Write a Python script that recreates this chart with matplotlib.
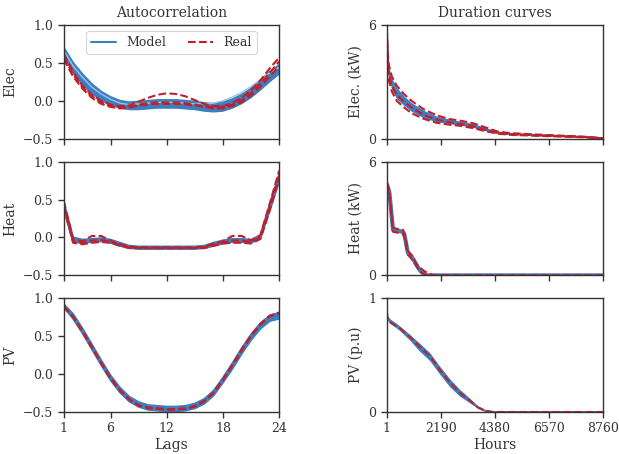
import numpy as np
import matplotlib
matplotlib.use("Agg")
import matplotlib.pyplot as plt
import seaborn as sns

sns.set_theme(style="ticks", context="paper")
plt.rcParams['font.family'] = ['DejaVu Serif']

lags = list(range(1, 25))

# ---- Autocorrelation: model band (lower / middle / upper) and real curves ----
elec_model_lo = [0.60, 0.38, 0.22, 0.10, 0.01, -0.05, -0.09, -0.11, -0.11, -0.10, -0.09, -0.09, -0.09, -0.10, -0.11, -0.13, -0.14, -0.13, -0.09, -0.03, 0.05, 0.15, 0.26, 0.36]
elec_model_mid = [0.65, 0.44, 0.29, 0.16, 0.07, 0.00, -0.05, -0.07, -0.06, -0.05, -0.04, -0.04, -0.04, -0.05, -0.06, -0.08, -0.09, -0.07, -0.03, 0.03, 0.11, 0.21, 0.32, 0.41]
elec_model_hi = [0.70, 0.50, 0.35, 0.22, 0.12, 0.05, 0.00, -0.02, -0.01, 0.00, 0.01, 0.01, 0.01, 0.00, -0.01, -0.03, -0.04, -0.02, 0.02, 0.08, 0.16, 0.27, 0.38, 0.47]
elec_model_alt = [0.66, 0.46, 0.31, 0.18, 0.09, 0.02, -0.03, -0.05, -0.04, -0.03, -0.02, -0.02, -0.02, -0.03, -0.04, -0.04, -0.03, 0.00, 0.05, 0.11, 0.19, 0.28, 0.37, 0.44]
elec_real = [
    [0.62, 0.38, 0.20, 0.08, 0.00, -0.05, -0.07, -0.06, -0.01, 0.04, 0.08, 0.10, 0.09, 0.06, 0.01, -0.04, -0.07, -0.07, -0.03, 0.04, 0.14, 0.27, 0.43, 0.57],
    [0.58, 0.35, 0.18, 0.06, -0.02, -0.07, -0.09, -0.08, -0.05, -0.03, -0.02, -0.02, -0.02, -0.03, -0.05, -0.07, -0.08, -0.08, -0.05, 0.01, 0.10, 0.23, 0.37, 0.52],
    [0.55, 0.32, 0.16, 0.04, -0.04, -0.08, -0.10, -0.09, -0.06, -0.05, -0.04, -0.04, -0.04, -0.05, -0.06, -0.08, -0.10, -0.10, -0.07, -0.02, 0.07, 0.19, 0.32, 0.46],
]

heat_model_lo = [0.38, -0.06, -0.07, -0.06, -0.05, -0.07, -0.11, -0.14, -0.15, -0.15, -0.15, -0.15, -0.15, -0.15, -0.15, -0.14, -0.11, -0.08, -0.06, -0.06, -0.07, -0.01, 0.36, 0.74]
heat_model_mid = [0.42, -0.03, -0.05, -0.04, -0.03, -0.05, -0.09, -0.12, -0.13, -0.13, -0.13, -0.13, -0.13, -0.13, -0.13, -0.12, -0.09, -0.06, -0.04, -0.04, -0.05, 0.01, 0.40, 0.79]
heat_model_hi = [0.46, 0.00, -0.03, -0.02, -0.01, -0.03, -0.07, -0.11, -0.12, -0.12, -0.12, -0.12, -0.12, -0.12, -0.12, -0.11, -0.07, -0.04, -0.02, -0.02, -0.03, 0.03, 0.44, 0.83]
heat_real = [
    [0.48, -0.02, -0.05, 0.02, 0.02, -0.04, -0.09, -0.12, -0.13, -0.13, -0.13, -0.13, -0.13, -0.13, -0.13, -0.12, -0.08, -0.05, 0.02, 0.02, -0.04, 0.03, 0.45, 0.88],
    [0.44, -0.05, -0.07, -0.04, -0.03, -0.06, -0.10, -0.13, -0.14, -0.14, -0.14, -0.14, -0.14, -0.14, -0.14, -0.13, -0.10, -0.07, -0.04, -0.04, -0.06, 0.00, 0.40, 0.82],
    [0.40, -0.07, -0.09, -0.07, -0.06, -0.07, -0.11, -0.14, -0.14, -0.14, -0.14, -0.14, -0.14, -0.14, -0.14, -0.14, -0.11, -0.08, -0.07, -0.07, -0.08, -0.02, 0.36, 0.78],
]

pv_model_lo = [0.88, 0.73, 0.54, 0.33, 0.12, -0.08, -0.24, -0.36, -0.43, -0.47, -0.48, -0.49, -0.49, -0.48, -0.45, -0.39, -0.28, -0.11, 0.07, 0.27, 0.45, 0.60, 0.70, 0.73]
pv_model_mid = [0.90, 0.76, 0.57, 0.36, 0.15, -0.05, -0.21, -0.33, -0.40, -0.44, -0.45, -0.46, -0.46, -0.45, -0.42, -0.36, -0.25, -0.08, 0.10, 0.30, 0.48, 0.63, 0.73, 0.77]
pv_model_hi = [0.92, 0.79, 0.60, 0.39, 0.18, -0.02, -0.18, -0.30, -0.37, -0.41, -0.42, -0.43, -0.43, -0.42, -0.39, -0.33, -0.22, -0.05, 0.14, 0.34, 0.52, 0.67, 0.77, 0.81]
pv_real = [
    [0.90, 0.76, 0.57, 0.36, 0.15, -0.05, -0.21, -0.33, -0.41, -0.44, -0.45, -0.46, -0.46, -0.45, -0.42, -0.35, -0.24, -0.07, 0.12, 0.32, 0.51, 0.66, 0.77, 0.81],
    [0.89, 0.75, 0.56, 0.35, 0.14, -0.06, -0.22, -0.34, -0.42, -0.45, -0.46, -0.47, -0.47, -0.46, -0.43, -0.36, -0.25, -0.08, 0.11, 0.31, 0.50, 0.65, 0.76, 0.80],
]

# ---- Duration curves (hour, value) ----
elec_hours = [1, 30, 80, 200, 400, 700, 1000, 1500, 2000, 2500, 3000, 3500, 4000, 4500, 5000, 6000, 7000, 8000, 8760]
elec_dur_mid = [5.9, 4.3, 3.5, 2.9, 2.4, 2.0, 1.7, 1.3, 1.05, 0.92, 0.82, 0.70, 0.50, 0.33, 0.26, 0.20, 0.15, 0.10, 0.03]
elec_dur_lo = [5.7, 4.0, 3.2, 2.6, 2.1, 1.75, 1.45, 1.1, 0.9, 0.8, 0.72, 0.60, 0.42, 0.28, 0.22, 0.17, 0.12, 0.08, 0.02]
elec_dur_hi = [6.0, 4.6, 3.8, 3.2, 2.7, 2.25, 1.9, 1.5, 1.2, 1.05, 0.92, 0.80, 0.58, 0.38, 0.30, 0.23, 0.18, 0.12, 0.04]
elec_dur_real = [
    [5.8, 4.6, 3.9, 3.3, 2.8, 2.35, 2.0, 1.55, 1.25, 1.05, 0.95, 0.82, 0.60, 0.38, 0.30, 0.23, 0.17, 0.11, 0.03],
    [5.6, 4.2, 3.4, 2.8, 2.3, 1.95, 1.65, 1.25, 1.02, 0.88, 0.78, 0.66, 0.47, 0.31, 0.25, 0.19, 0.14, 0.09, 0.02],
    [5.5, 3.9, 3.1, 2.5, 2.0, 1.65, 1.35, 1.05, 0.85, 0.75, 0.68, 0.56, 0.40, 0.27, 0.21, 0.16, 0.12, 0.08, 0.02],
]

heat_hours = [1, 100, 250, 650, 720, 850, 1050, 1200, 1350, 1550, 1900, 8760]
heat_dur_mid = [4.8, 4.4, 2.4, 2.3, 2.1, 1.2, 0.9, 0.55, 0.25, 0.0, 0.0, 0.0]
heat_dur_real = [
    [4.9, 4.5, 2.5, 2.4, 2.2, 1.3, 1.0, 0.6, 0.4, 0.2, 0.0, 0.0],
    [4.7, 4.3, 2.3, 2.2, 2.0, 1.1, 0.8, 0.5, 0.2, 0.05, 0.0, 0.0],
]

pv_hours = [1, 20, 120, 500, 933, 1300, 1745, 2150, 2555, 2950, 3366, 3700, 4000, 4300, 8760]
pv_dur_mid = [0.90, 0.83, 0.80, 0.74, 0.66, 0.58, 0.49, 0.37, 0.26, 0.17, 0.10, 0.04, 0.01, 0.0, 0.0]
pv_dur_lo = [0.88, 0.81, 0.78, 0.72, 0.63, 0.54, 0.45, 0.33, 0.22, 0.14, 0.08, 0.03, 0.005, 0.0, 0.0]
pv_dur_hi = [0.92, 0.85, 0.82, 0.76, 0.68, 0.61, 0.52, 0.40, 0.29, 0.20, 0.12, 0.05, 0.015, 0.0, 0.0]
pv_dur_real = [
    [0.88, 0.82, 0.79, 0.74, 0.66, 0.58, 0.49, 0.37, 0.26, 0.17, 0.10, 0.04, 0.01, 0.0, 0.0],
]

BLUE = '#3a7fc0'
RED = '#c0202a'
TXT = '#333333'

fig = plt.figure(figsize=(6.19, 4.54), dpi=100)
gs_left = fig.add_gridspec(3, 1, left=0.103, right=0.451, top=0.945, bottom=0.0925, hspace=0.2)
gs_right = fig.add_gridspec(3, 1, left=0.625, right=0.974, top=0.945, bottom=0.0925, hspace=0.2)
axl = [fig.add_subplot(gs_left[i]) for i in range(3)]
axr = [fig.add_subplot(gs_right[i]) for i in range(3)]

ac_sets = [
    (elec_model_lo, elec_model_mid, elec_model_hi, elec_real, "Elec"),
    (heat_model_lo, heat_model_mid, heat_model_hi, heat_real, "Heat"),
    (pv_model_lo, pv_model_mid, pv_model_hi, pv_real, "PV"),
]
for i, (lo, mid, hi, reals, lab) in enumerate(ac_sets):
    ax = axl[i]
    ax.fill_between(lags, lo, hi, color=BLUE, lw=0)
    for c in (lo, mid, hi):
        ax.plot(lags, c, color=BLUE, lw=1.5)
    if i == 0:
        ax.plot(lags, elec_model_alt, color='#9cc3e6', lw=1.0)
    for k, r in enumerate(reals):
        ax.plot(lags, r, color=RED, lw=1.5, ls='--')
    ax.set_xlim(1, 24)
    ax.set_ylim(-0.5, 1.0)
    ax.set_yticks([-0.5, 0.0, 0.5, 1.0])
    ax.set_xticks([1, 6, 12, 18, 24])
    ax.set_ylabel(lab, fontsize=10, color=TXT)
    if i < 2:
        ax.set_xticklabels([])
axl[2].set_xlabel("Lags", fontsize=10, color=TXT, labelpad=2)
axl[0].set_title("Autocorrelation", fontsize=10, color=TXT)

from matplotlib.lines import Line2D
handles = [Line2D([], [], color=BLUE, lw=1.5), Line2D([], [], color=RED, lw=1.5, ls='--')]
leg = axl[0].legend(handles, ["Model", "Real"], loc='upper center', ncol=2, fontsize=9,
                    frameon=True, bbox_to_anchor=(0.5, 1.0), columnspacing=1.8)
for t in leg.get_texts():
    t.set_color(TXT)

# Duration curves
ax = axr[0]
ax.fill_between(elec_hours, elec_dur_lo, elec_dur_hi, color=BLUE, lw=0)
ax.plot(elec_hours, elec_dur_mid, color=BLUE, lw=1.5)
for r in elec_dur_real:
    ax.plot(elec_hours, r, color=RED, lw=1.5, ls='--')
ax.set_ylim(0, 6)
ax.set_yticks([0, 6])
ax.set_ylabel("Elec. (kW)", fontsize=10, color=TXT)

ax = axr[1]
ax.plot(heat_hours, heat_dur_mid, color=BLUE, lw=3.0)
for r in heat_dur_real:
    ax.plot(heat_hours, r, color=RED, lw=1.5, ls='--')
ax.set_ylim(0, 6)
ax.set_yticks([0, 6])
ax.set_ylabel("Heat (kW)", fontsize=10, color=TXT)

ax = axr[2]
ax.fill_between(pv_hours, pv_dur_lo, pv_dur_hi, color=BLUE, lw=0)
ax.plot(pv_hours, pv_dur_mid, color=BLUE, lw=1.5)
for r in pv_dur_real:
    ax.plot(pv_hours, r, color=RED, lw=1.5, ls='--')
ax.set_ylim(0, 1)
ax.set_yticks([0, 1])
ax.set_ylabel("PV (p.u)", fontsize=10, color=TXT)
ax.set_xlabel("Hours", fontsize=10, color=TXT, labelpad=2)
axr[0].set_title("Duration curves", fontsize=10, color=TXT)

for i, ax in enumerate(axr):
    ax.set_xlim(1, 8760)
    ax.set_xticks([1, 2190, 4380, 6570, 8760])
    if i < 2:
        ax.set_xticklabels([])

for ax in axl + axr:
    ax.tick_params(labelsize=9, length=4, labelcolor=TXT, color='#333333')
    for s in ax.spines.values():
        s.set_color('#333333')

fig.savefig("out.png", dpi=100)
